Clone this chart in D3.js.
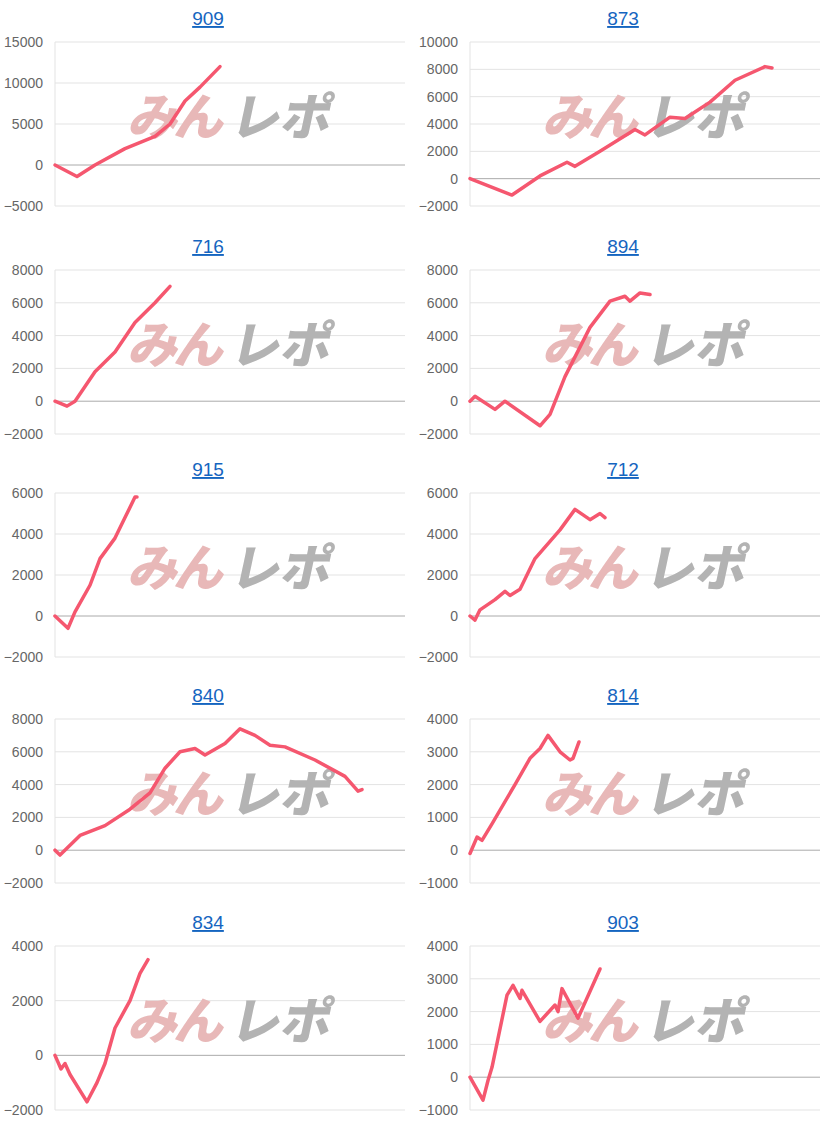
<!DOCTYPE html>
<html><head><meta charset="utf-8">
<script src="https://cdnjs.cloudflare.com/ajax/libs/d3/7.8.5/d3.min.js"></script>
<style>body{margin:0;background:#fff;font-family:"Liberation Sans",Arial,sans-serif;}</style>
</head><body>
<script>
// machine ids
var titles = ["909", "873", "716", "894", "915", "712", "840", "814", "834", "903"];
// y tick labels per chart
var ticks = [
  [-5000, 0, 5000, 10000, 15000],
  [-2000, 0, 2000, 4000, 6000, 8000, 10000],
  [-2000, 0, 2000, 4000, 6000, 8000],
  [-2000, 0, 2000, 4000, 6000, 8000],
  [-2000, 0, 2000, 4000, 6000],
  [-2000, 0, 2000, 4000, 6000],
  [-2000, 0, 2000, 4000, 6000, 8000],
  [-1000, 0, 1000, 2000, 3000, 4000],
  [-2000, 0, 2000, 4000],
  [-1000, 0, 1000, 2000, 3000, 4000]
];
// [game index, balance]
var s909 = [[0,0],[22,-1400],[40,0],[70,2000],[100,3500],[115,5000],[130,7800],[145,9500],[165,12000]];
var s873 = [[0,0],[42,-1200],[70,200],[97,1200],[105,900],[130,2000],[165,3600],[175,3200],[200,4500],[215,4400],[240,5600],[265,7200],[295,8200],[302,8100]];
var s716 = [[0,0],[12,-300],[20,0],[40,1800],[60,3000],[80,4800],[100,6000],[115,7000]];
var s894 = [[0,0],[5,300],[25,-500],[35,0],[70,-1500],[80,-800],[95,1500],[120,4500],[140,6100],[155,6400],[160,6100],[170,6600],[180,6500]];
var s915 = [[0,0],[13,-600],[20,200],[35,1500],[45,2800],[60,3800],[70,4800],[80,5800],[82,5800]];
var s712 = [[0,0],[5,-200],[10,300],[25,800],[35,1200],[40,1000],[50,1300],[65,2800],[90,4200],[105,5200],[120,4700],[130,5000],[135,4800]];
var s840 = [[0,0],[5,-300],[25,900],[50,1500],[75,2500],[95,3500],[110,5000],[125,6000],[140,6200],[150,5800],[170,6500],[185,7400],[200,7000],[215,6400],[230,6300],[260,5500],[290,4500],[303,3600],[307,3700]];
var s814 = [[0,-100],[7,400],[12,300],[22,800],[45,2000],[60,2800],[70,3100],[78,3500],[90,3000],[100,2750],[103,2800],[109,3300]];
var s834 = [[0,0],[6,-500],[10,-300],[15,-700],[32,-1700],[42,-1000],[50,-300],[60,1000],[75,2000],[85,3000],[93,3500]];
var s903 = [[0,0],[13,-700],[18,-100],[22,300],[37,2500],[43,2800],[50,2400],[52,2650],[70,1700],[85,2200],[88,2000],[92,2700],[108,1800],[130,3300]];
var series = [s909, s873, s716, s894, s915, s712, s840, s814, s834, s903];

var W = 823, H = 1125;
var rowTops = [42, 270, 493, 719, 946];
var colLefts = [55, 470];
var plotW = 350, plotH = 164;

var svg = d3.select("body").append("svg").attr("width", W).attr("height", H);

series.forEach(function (data, i) {
  var col = i % 2, row = Math.floor(i / 2);
  var g = svg.append("g").attr("transform", "translate(" + colLefts[col] + "," + rowTops[row] + ")");
  var t = ticks[i];
  var x = d3.scaleLinear().domain([0, 350]).range([0, plotW]);
  var y = d3.scaleLinear().domain([t[0], t[t.length - 1]]).range([plotH, 0]);

  // title
  g.append("text").attr("x", plotW / 2 - 22).attr("y", -17).attr("text-anchor", "middle")
    .attr("font-size", 19).attr("fill", "#1565c0").attr("text-decoration", "underline").text(titles[i]);

  // grid
  g.selectAll(".grid").data(t).enter().append("line")
    .attr("x1", 0).attr("x2", plotW)
    .attr("y1", function (d) { return y(d); }).attr("y2", function (d) { return y(d); })
    .attr("stroke", function (d) { return d === 0 ? "#aaa" : "#e3e3e3"; }).attr("stroke-width", 1);
  g.append("line").attr("x1", 0).attr("x2", 0).attr("y1", 0).attr("y2", plotH).attr("stroke", "#e3e3e3");

  var ax = d3.axisLeft(y).tickValues(t).tickSize(0).tickPadding(12).tickFormat(d3.format("d"));
  g.append("g").call(ax).call(function (s) {
    s.select(".domain").remove();
    s.selectAll("text").attr("font-size", 14).attr("fill", "#666").attr("font-family", "Liberation Sans, Arial, sans-serif");
  });

  // watermark
  var wm = g.append("g").attr("transform", "translate(" + (plotW / 2 - 103) + ",93) skewX(-12)")
    .attr("font-size", 50).attr("font-weight", "900")
    .attr("font-family", "Noto Sans CJK JP");
  wm.append("text").attr("x", 0).attr("y", 0).attr("fill", "#e8b8b8").attr("textLength", 96).text("みん");
  wm.append("text").attr("x", 102).attr("y", 0).attr("fill", "#b3b3b3").attr("textLength", 100).text("レポ");

  var line = d3.line().x(function (d) { return x(d[0]); }).y(function (d) { return y(d[1]); });
  g.append("path").datum(data).attr("d", line).attr("fill", "none")
    .attr("stroke", "#f5576f").attr("stroke-width", 3.5).attr("stroke-linejoin", "round").attr("stroke-linecap", "round");
});
</script>
</body></html>
